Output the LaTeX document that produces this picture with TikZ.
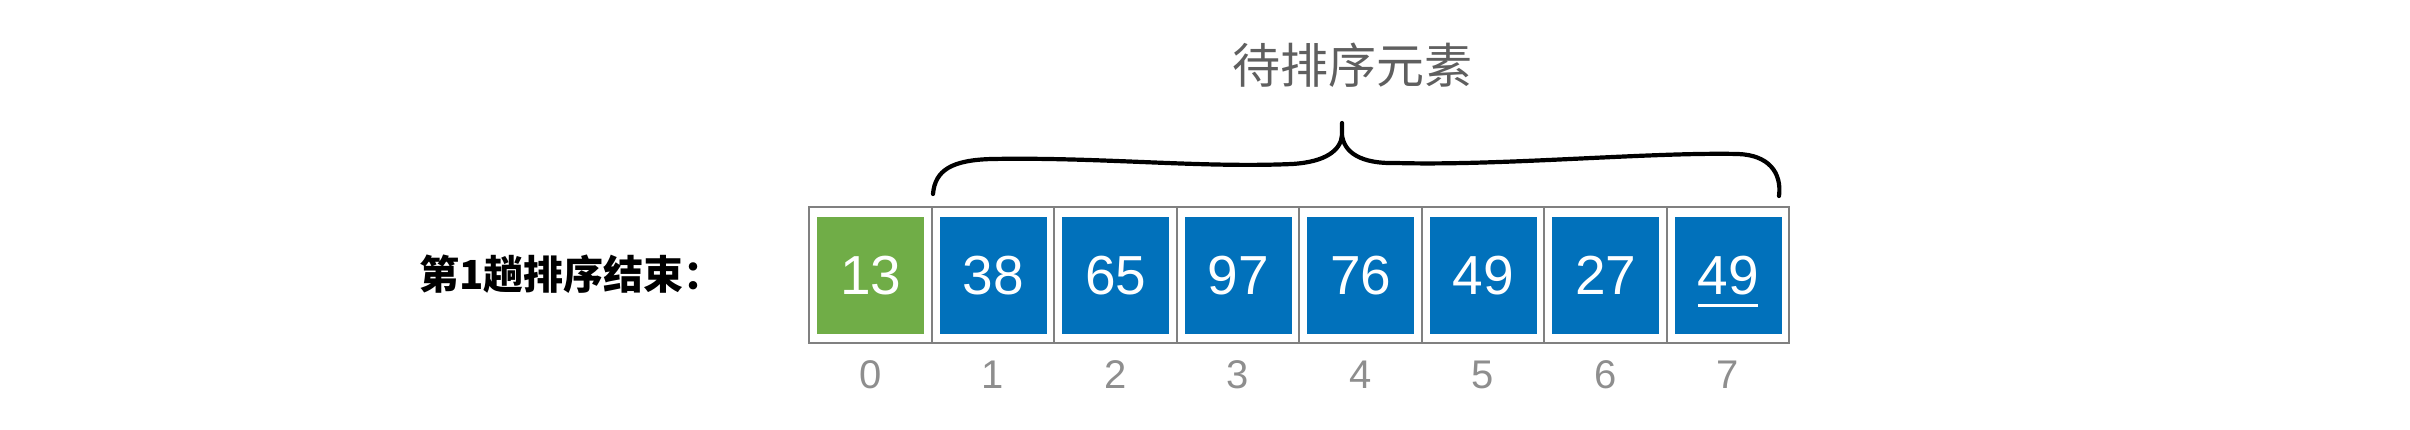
\documentclass[tikz,border=0pt]{standalone}
\usepackage{fontspec}
\setmainfont{Liberation Sans}
\newfontfamily\cjk{Noto Sans CJK SC}
\definecolor{cellgray}{HTML}{808080}
\definecolor{idxgray}{HTML}{8E8E8E}
\definecolor{titlegray}{HTML}{5F5F5F}
\definecolor{sortgreen}{HTML}{70AD47}
\definecolor{sortblue}{HTML}{0171BB}
\tikzset{
  cellbox/.style={draw=cellgray, line width=2pt, minimum width=122.5pt, minimum height=136.6pt, inner sep=0pt},
  valbox/.style={minimum width=107pt, minimum height=117pt, inner sep=0pt, text=white, font=\fontsize{55}{60}\selectfont},
  idxlabel/.style={text=idxgray, inner sep=0pt, font=\fontsize{40}{44}\selectfont},
  bracestroke/.style={line width=4.2pt, line cap=round, line join=round, black}
}
\begin{document}
\begin{tikzpicture}[x=1pt,y=-1pt]
\useasboundingbox (0,0) rectangle (2410,430);
% label
\node[anchor=west, inner sep=0pt, font=\cjk\bfseries\fontsize{40}{44}\selectfont] (lab) at (419,274) {第1趟排序结束：};
% title
\node[inner sep=0pt, text=titlegray, font=\cjk\fontsize{48}{52}\selectfont] (title) at (1352,65) {待排序元素};
% cells
\foreach \i in {0,...,7}{
  \node[cellbox] (c\i) at ({870.6+122.5*\i},275) {};
  \node[idxlabel] (i\i) at ({870.6+122.5*\i},375) {\i};
}
\node[valbox, fill=sortgreen] (v0) at (870.6,275.7) {13};
\node[valbox, fill=sortblue] (v1) at (993.1,275.7) {38};
\node[valbox, fill=sortblue] (v2) at (1115.6,275.7) {65};
\node[valbox, fill=sortblue] (v3) at (1238.1,275.7) {97};
\node[valbox, fill=sortblue] (v4) at (1360.6,275.7) {76};
\node[valbox, fill=sortblue] (v5) at (1483.1,275.7) {49};
\node[valbox, fill=sortblue] (v6) at (1605.6,275.7) {27};
\node[valbox, fill=sortblue] (v7) at (1728.1,275.7) {49};
\draw[white, line width=3pt] (v7.center) ++(-30,30) -- ++(60,0);
% brace
\draw[bracestroke] (933,194) .. controls (935,170) and (952,160) .. (992,159)
  .. controls (1100,157) and (1200,168) .. (1292,164)
  .. controls (1326,162) and (1341,150) .. (1342,135) -- (1342,123) -- (1342,135)
  .. controls (1344,152) and (1360,164) .. (1396,163)
  .. controls (1500,166) and (1650,152) .. (1738,154)
  .. controls (1768,155) and (1782,172) .. (1779,196);
\end{tikzpicture}
\end{document}
